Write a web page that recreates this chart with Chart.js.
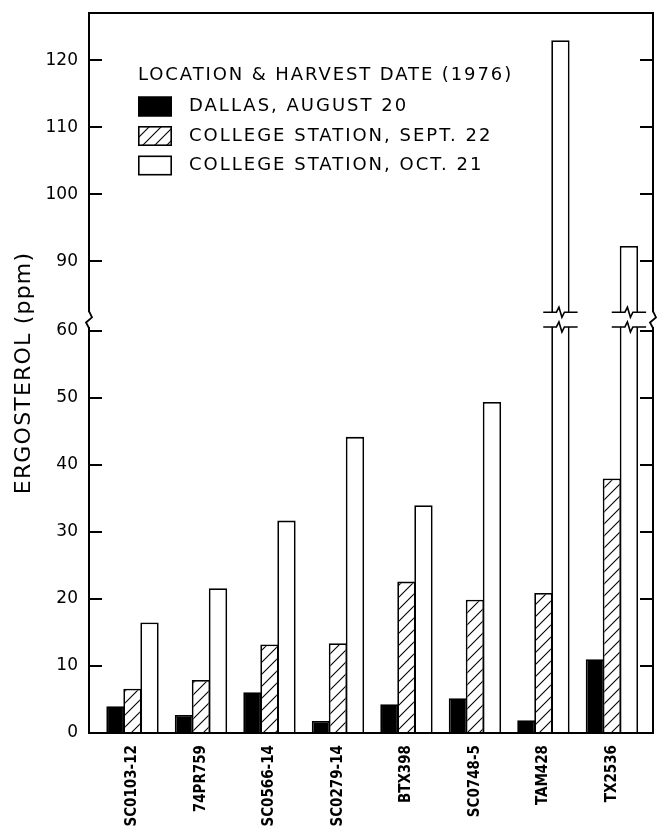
<!DOCTYPE html>
<html><head><meta charset="utf-8">
<script src="https://cdn.jsdelivr.net/npm/chart.js@4/dist/chart.umd.min.js"></script>
<style>html,body{margin:0;padding:0;background:#fff}canvas{display:block}</style>
</head><body><canvas id="c" width="657" height="829"></canvas>
<script>
const categories = ['SC0103-12','74PR759','SC0566-14','SC0279-14','BTX398','SC0748-5','TAM428','TX2536'];
const dallasAug20 = [4.0, 2.7, 6.1, 1.8, 4.3, 5.2, 1.9, 11.0];
const collegeStationSept22 = [6.6, 7.9, 13.2, 13.4, 22.6, 19.9, 20.9, 38.0];
const collegeStationOct21 = [16.5, 21.6, 31.7, 44.2, 34.0, 49.4, 123.0, 92.3];
const yTickValues = [0, 10, 20, 30, 40, 50, 60, 90, 100, 110, 120];
const seriesLabels = ['DALLAS, AUGUST 20', 'COLLEGE STATION, SEPT. 22', 'COLLEGE STATION, OCT. 21'];
const legendTitle = 'LOCATION & HARVEST DATE (1976)';
const yTitle = 'ERGOSTEROL (ppm)';

// axis break: values above 60 are drawn shifted down (60 ... 90 collapsed)
const BREAK_AT = 60, BREAK_SHIFT = 19.6;
const GAP_LO = 60.6, GAP_HI = 62.8;
function toAxis(v){ return v > BREAK_AT ? v - BREAK_SHIFT : v; }

const F = "'DejaVu Sans', sans-serif";
const FC = "'DejaVu Sans Condensed', 'DejaVu Sans', sans-serif";
const canvas = document.getElementById('c');
const ctx = canvas.getContext('2d');

function makeHatch(){
  const s = 12, c = document.createElement('canvas'); c.width = s; c.height = s;
  const g = c.getContext('2d');
  g.fillStyle = '#fff'; g.fillRect(0,0,s,s);
  g.strokeStyle = '#000'; g.lineWidth = 1.1;
  g.beginPath();
  g.moveTo(-1, s+1); g.lineTo(s+1, -1);
  g.moveTo(-1, 1); g.lineTo(1, -1);
  g.moveTo(s-1, s+1); g.lineTo(s+1, s-1);
  g.stroke();
  return ctx.createPattern(c, 'repeat');
}
const hatch = makeHatch();

function pts(arr){ return arr.map((v,i)=>({x:i, y:toAxis(v), actual:v})); }

function zig(c, x1, x2, y){
  const m = (x1+x2)/2;
  c.beginPath();
  c.moveTo(x1, y); c.lineTo(m-4, y); c.lineTo(m-1.5, y-5); c.lineTo(m+1.5, y+5); c.lineTo(m+4, y); c.lineTo(x2, y);
  c.stroke();
}

const breakPlugin = {
  id: 'breaks',
  afterLayout(chart){
    const ys = chart.scales.y;
    if (ys && !ys._spacedTitle){
      const orig = ys.drawTitle;
      ys.drawTitle = function(){
        const c = this.ctx; const prev = c.letterSpacing;
        c.letterSpacing = '1.2px';
        orig.apply(this, arguments);
        c.letterSpacing = prev;
      };
      ys._spacedTitle = true;
    }
  },
  afterDatasetsDraw(chart){
    const c = chart.ctx, ys = chart.scales.y;
    const yl = ys.getPixelForValue(GAP_LO), yh = ys.getPixelForValue(GAP_HI);
    c.save();
    chart.data.datasets.forEach((ds, di)=>{
      const meta = chart.getDatasetMeta(di);
      meta.data.forEach((bar, j)=>{
        if (ds.data[j].y > GAP_HI){
          const p = bar.getProps(['x','width'], true);
          const l = p.x - p.width/2, r = p.x + p.width/2;
          c.fillStyle = '#fff';
          c.fillRect(l-1, yh, p.width+2, yl-yh);
          c.strokeStyle = '#000'; c.lineWidth = 1.6;
          zig(c, l-8, r+8, yh);
          zig(c, l-8, r+8, yl);
        }
      });
    });
    c.restore();
  },
  afterDraw(chart){
    const c = chart.ctx, ys = chart.scales.y, a = chart.chartArea;
    const yl = ys.getPixelForValue(GAP_LO), yh = ys.getPixelForValue(GAP_HI);
    c.save();
    // top frame line
    c.strokeStyle = '#000'; c.lineWidth = 2;
    c.beginPath(); c.moveTo(a.left, a.top); c.lineTo(a.right, a.top); c.stroke();
    [a.left, a.right].forEach(x=>{
      c.fillStyle = '#fff';
      c.fillRect(x-2, yh, 4, yl-yh);
      c.strokeStyle = '#000'; c.lineWidth = 1.8;
      c.beginPath();
      c.moveTo(x, yh-1); c.lineTo(x+3, yh+(yl-yh)*0.35); c.lineTo(x-3, yh+(yl-yh)*0.7); c.lineTo(x, yl+1);
      c.stroke();
    });
    // legend
    c.font = '18px ' + F;
    c.fillStyle = '#000';
    c.textBaseline = 'alphabetic'; c.textAlign = 'left';
    c.letterSpacing = '1.9px';
    c.fillText(legendTitle, 138, 80);
    c.letterSpacing = '2px';
    chart.data.datasets.forEach((ds, i)=>{
      const y = 96.5 + i*29.5;
      c.fillStyle = ds.backgroundColor;
      c.fillRect(138, y, 34, 20);
      c.lineWidth = 1.6; c.strokeStyle = '#000';
      c.strokeRect(138.8, y+0.8, 32.4, 18.4);
      c.fillStyle = '#000'; c.textBaseline = 'middle';
      c.fillText(ds.label, 189, y+10);
    });
    c.restore();
  }
};

const xMin = -0.635, xMax = 7.6;
const yMax = 107.46;
const yTicksFn = s => { s.ticks = yTickValues.map(v=>({value: toAxis(v)})); };
const noPad = s => { s.paddingTop = 0; s.paddingBottom = 0; s.paddingLeft = 0; s.paddingRight = 0; };

new Chart(ctx, {
  type: 'bar',
  data: {
    datasets: [
      {label: seriesLabels[0], data: pts(dallasAug20), backgroundColor: '#000', borderColor: '#000', borderWidth: 1.8},
      {label: seriesLabels[1], data: pts(collegeStationSept22), backgroundColor: hatch, borderColor: '#000', borderWidth: 1.8},
      {label: seriesLabels[2], data: pts(collegeStationOct21), backgroundColor: '#fff', borderColor: '#000', borderWidth: 1.8}
    ]
  },
  plugins: [breakPlugin],
  options: {
    responsive: false,
    animation: false,
    devicePixelRatio: 1,
    categoryPercentage: 0.745,
    barPercentage: 1.08,
    layout: {padding: {top: 13, left: 0, right: 0, bottom: 0}},
    plugins: {legend: {display: false}, tooltip: {enabled: false}},
    scales: {
      x: {
        type: 'linear', min: xMin, max: xMax, offset: false,
        afterBuildTicks: s => { s.ticks = categories.map((_, i)=>({value: i})); },
        ticks: {autoSkip: false, minRotation: 90, maxRotation: 90, padding: 12, color: '#000',
          font: {family: FC, size: 15, weight: 'bold'}, callback: v => categories[v]},
        grid: {display: false, drawTicks: false},
        border: {display: true, color: '#000', width: 2},
        afterFit: s => { s.height = 96; noPad(s); }
      },
      y: {
        type: 'linear', min: 0, max: yMax,
        afterBuildTicks: yTicksFn,
        ticks: {color: '#000', padding: 24, font: {family: F, size: 17},
          callback: (v, i) => String(yTickValues[i])},
        grid: {drawOnChartArea: false, drawTicks: true, tickLength: -13, color: '#000', lineWidth: 2},
        border: {display: true, color: '#000', width: 2},
        title: {display: true, text: yTitle, color: '#000', font: {family: F, size: 22}, padding: {top: 11, bottom: 0}},
        afterFit: s => { s.width = 89; noPad(s); }
      },
      y2: {
        type: 'linear', position: 'right', min: 0, max: yMax,
        afterBuildTicks: yTicksFn,
        ticks: {display: false},
        grid: {drawOnChartArea: false, drawTicks: true, tickLength: -13, color: '#000', lineWidth: 2},
        border: {display: true, color: '#000', width: 2},
        afterFit: s => { s.width = 4; noPad(s); }
      }
    }
  }
});
</script>
</body></html>
